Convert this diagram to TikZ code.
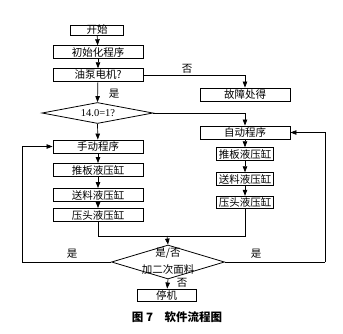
\documentclass[tikz,border=0pt]{standalone}
\usepackage{fontspec}
\setmainfont{Liberation Serif}
\newfontfamily\cjk{Noto Sans CJK SC}
\usetikzlibrary{shapes.geometric,arrows.meta}
\begin{document}
\begin{tikzpicture}[x=1pt,y=-1pt,
  every node/.style={font=\cjk\fontsize{10.5}{12}\selectfont},
  box/.style={draw, line width=0.9pt, inner sep=0pt, minimum height=12.5pt},
  wbox/.style={box, minimum width=90pt},
  sbox/.style={box, minimum width=57pt},
  dia/.style={draw, line width=0.8pt, diamond, inner sep=0pt},
  lab/.style={inner sep=1pt},
  conn/.style={line width=0.7pt},
  arr/.style={conn, -{Triangle[length=6pt,width=4.5pt]}}]
\useasboundingbox (0,0) rectangle (343,333);
% nodes
\node[box, minimum width=53pt, minimum height=10pt] (start) at (97,30) {开始};
\node[wbox] (init) at (98,52) {初始化程序};
\node[wbox] (pump) at (98,75) {油泵电机?};
\node[box, minimum width=90pt, minimum height=13pt] (fault) at (245,94.5) {故障处得};
\node[dia, minimum width=111pt, minimum height=21pt] (d1) at (97.5,113) {};
\node[font=\rmfamily\fontsize{10.5}{12}\selectfont] (d1t) at (98,113) {14.0=1?};
\node[wbox, minimum height=13pt] (manual) at (98,146.5) {手动程序};
\node[wbox, minimum height=13pt] (push1) at (98,170) {推板液压缸};
\node[wbox, minimum height=13pt] (feed1) at (98,195) {送料液压缸};
\node[wbox, minimum height=13pt] (press1) at (98,215) {压头液压缸};
\node[box, minimum width=90pt, minimum height=13pt] (auto) at (245,132.5) {自动程序};
\node[sbox] (push2) at (245,154) {推板液压缸};
\node[sbox] (feed2) at (245,179) {送料液压缸};
\node[sbox] (press2) at (245,202.5) {压头液压缸};
\node[dia, minimum width=113pt, minimum height=34pt] (d2) at (168,262) {};
\node (d2a) at (168,253) {是/否};
\node (d2b) at (168,270) {加二次面料};
\node[box, minimum width=59pt, minimum height=12pt] (stop) at (166.5,295) {停机};
\node[font=\cjk\bfseries\fontsize{11.5}{13}\selectfont] (cap) at (177,317) {图 7\quad 软件流程图};
% labels
\node[lab] (l1) at (187,69) {否};
\node[lab] (l2) at (114,94) {是};
\node[lab] (l3) at (72,254) {是};
\node[lab] (l4) at (256,254) {是};
\node[lab] (l5) at (182,283) {否};
% coordinates
\coordinate (j) at (167,236);
\coordinate (lb) at (22,262);
\coordinate (rb) at (325,262);
% connectors
\draw[arr] (start) -- (init);
\draw[arr] (init) -- (pump);
\draw[arr] (pump.east) -| (fault.north);
\draw[arr] (pump) -- (d1.north);
\draw[arr] (d1.east) -| (auto.north);
\draw[arr] (d1.south) -- (manual);
\draw[arr] (manual) -- (push1);
\draw[arr] (push1) -- (feed1);
\draw[arr] (feed1) -- (press1);
\draw[arr] (auto) -- (push2);
\draw[arr] (push2) -- (feed2);
\draw[arr] (feed2) -- (press2);
\draw[conn] (press1.south) |- (j);
\draw[conn] (press2.south) |- (j);
\draw[arr] (j) -- (d2.north);
\draw[conn] (d2.west) -- (lb);
\draw[arr] (lb) |- (manual.west);
\draw[conn] (d2.east) -- (rb);
\draw[arr] (rb) |- (auto.east);
\draw[arr] (d2.south) -- (stop);
\end{tikzpicture}
\end{document}
